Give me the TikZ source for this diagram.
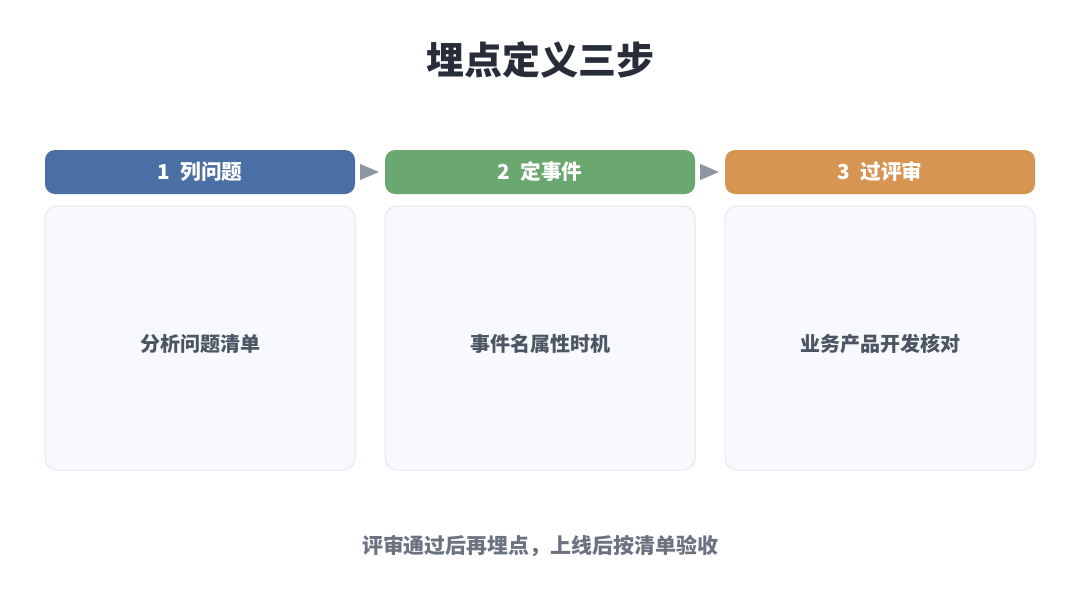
\documentclass[tikz,border=0pt]{standalone}
\usepackage{fontspec}
\setmainfont{Noto Sans CJK SC}
\usetikzlibrary{arrows.meta}
\definecolor{titlec}{HTML}{272E39}
\definecolor{bodyc}{HTML}{4B5563}
\definecolor{footc}{HTML}{6B7280}
\definecolor{stepa}{HTML}{4A6FA5}
\definecolor{stepb}{HTML}{6BA870}
\definecolor{stepc}{HTML}{D69553}
\definecolor{cardfill}{HTML}{F7F9FC}
\definecolor{cardline}{HTML}{E2E8F0}
\definecolor{tipc}{HTML}{8E96A3}
\tikzset{
  head/.style={rounded corners=7.5pt, minimum width=232.5pt, minimum height=33pt,
    text=white, font=\bfseries\fontsize{15.5}{18}\selectfont, inner sep=0pt},
  card/.style={draw=cardline, line width=0.75pt, fill=cardfill, rounded corners=9pt,
    minimum width=232.5pt, minimum height=198pt, text=bodyc,
    text height=20.4pt, text depth=0pt,
    font=\bfseries\fontsize{15}{18}\selectfont, inner sep=0pt},
  link/.style={draw=tipc, line width=0.1pt, -{Triangle[length=14pt,width=12pt]}, tipc}
}
\begin{document}
\begin{tikzpicture}[x=0.75pt,y=-0.75pt]
\useasboundingbox[fill=white] (0,0) rectangle (1080,600);
\node[text=titlec, font=\bfseries\fontsize{28.5}{32}\selectfont] (title) at (540,60) {埋点定义三步};
\node[head, fill=stepa] (h1) at (200,172) {1\enspace 列问题};
\node[head, fill=stepb] (h2) at (540,172) {2\enspace 定事件};
\node[head, fill=stepc] (h3) at (880,172) {3\enspace 过评审};
\node[card] (c1) at (200,338) {分析问题清单};
\node[card] (c2) at (540,338) {事件名属性时机};
\node[card] (c3) at (880,338) {业务产品开发核对};
\node[text=footc, font=\bfseries\fontsize{15.7}{18}\selectfont] (foot) at (540,546) {评审通过后再埋点，上线后按清单验收};
\draw [link] ([xshift=3.75pt]h1.east) -- ([xshift=-4.5pt]h2.west);
\draw [link] ([xshift=3.75pt]h2.east) -- ([xshift=-4.5pt]h3.west);
\end{tikzpicture}
\end{document}
